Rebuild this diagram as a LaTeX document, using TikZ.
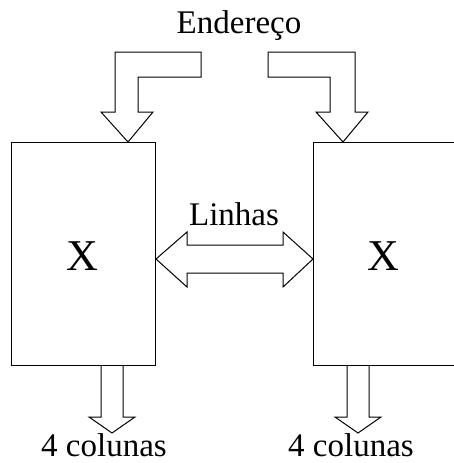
\documentclass[tikz,border=0pt]{standalone}
\usepackage{fontspec}
\setmainfont{Liberation Serif}
\usepackage{tikz}
\tikzset{>=latex}
\tikzset{
  rotulo/.style={anchor=base, inner sep=0pt, font=\fontsize{33}{36}\selectfont},
  marca/.style={anchor=base, inner sep=0pt, font=\fontsize{44}{48}\selectfont},
  bloco/.style={draw, line width=1pt, inner sep=0pt, minimum width=144pt, minimum height=223pt}
}

\begin{document}
\begin{tikzpicture}[x=1pt, y=-1pt, line width=1pt, line join=miter]
      \clip (0,0) rectangle (454,463);
      % blocos de memoria
      \node[bloco] (memA) at (83,253.5) {};
      \node[bloco] (memB) at (385,253.5) {};
      \node[marca] (xA) at (82,270) {X};
      \node[marca] (xB) at (383,270) {X};
      % setas de endereco
      \draw (201,52) -- (115,52) -- (115,112) -- (101,112) -- (128,142)
            -- (153,112) -- (138,112) -- (138,77) -- (201,77) -- cycle;
      \draw (268,52) -- (355,52) -- (355,112) -- (368,112) -- (343,142)
            -- (316,112) -- (330,112) -- (330,77) -- (268,77) -- cycle;
      \node[rotulo] (end) at (239,33) {Endereço};
      % linhas entre os blocos
      \draw (156,259) -- (187,232) -- (187,245) -- (283,245) -- (283,232)
            -- (313,259) -- (283,287) -- (283,273) -- (187,273) -- (187,287) -- cycle;
      \node[rotulo] (lin) at (234,225) {Linhas};
      % saidas de colunas
      \draw (101,365) -- (101,417) -- (89,417) -- (112,433) -- (135,417)
            -- (123,417) -- (123,365);
      \draw (347,365) -- (347,417) -- (335,417) -- (358,433) -- (381,417)
            -- (369,417) -- (369,365);
      \node[rotulo] (colA) at (104,456) {4 colunas};
      \node[rotulo] (colB) at (351,456) {4 colunas};
    \end{tikzpicture}
\end{document}
